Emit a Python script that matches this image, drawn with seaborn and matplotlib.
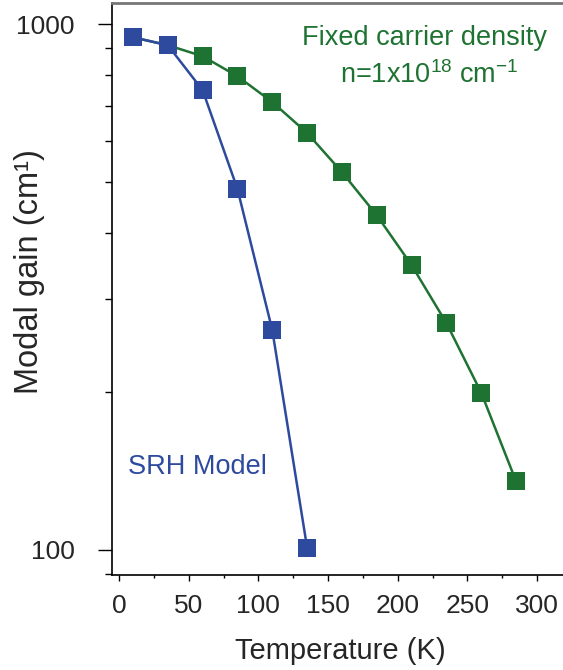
import numpy as np
import pandas as pd
import seaborn as sns
import matplotlib
matplotlib.use("Agg")
import matplotlib.pyplot as plt
from matplotlib.ticker import MultipleLocator, LogLocator, FixedLocator, FixedFormatter, NullFormatter

# temperatures (K) and modal gain (cm^-1)
temp_fixed = [10, 35, 60, 85, 110, 135, 160, 185, 210, 235, 260, 285]
gain_fixed = [944, 912, 869, 796, 711, 621, 523, 433, 348, 270, 199, 135]

temp_srh = [10, 35, 60, 85, 110, 135]
gain_srh = [944, 912, 749, 486, 262, 101]

series_names = ["Fixed carrier density", "SRH Model"]
series_colors = ["#1e7332", "#2e4a9e"]

df = pd.concat([
    pd.DataFrame({"T": temp_fixed, "gain": gain_fixed, "model": series_names[0]}),
    pd.DataFrame({"T": temp_srh, "gain": gain_srh, "model": series_names[1]}),
])

sns.set_style("ticks")
plt.rcParams["font.family"] = ["Liberation Sans", "DejaVu Sans"]
plt.rcParams["mathtext.default"] = "regular"

fig = plt.figure(figsize=(5.63, 6.70), dpi=100)
ax = fig.add_axes([0.199, 0.1418, 0.811, 0.8537])

sns.lineplot(data=df, x="T", y="gain", hue="model", hue_order=series_names,
             palette=series_colors, marker="s", markersize=13, markeredgewidth=0,
             linewidth=1.8, ax=ax, legend=False, sort=False)

ax.set_yscale("log")
ax.set_ylim(89.6, 1097)
ax.set_xlim(-5, 322.7)

ax.yaxis.set_major_locator(FixedLocator([100, 1000]))
ax.yaxis.set_major_formatter(FixedFormatter(["100", "1000"]))
ax.yaxis.set_minor_locator(LogLocator(base=10, subs=np.arange(2, 10)))
ax.yaxis.set_minor_formatter(NullFormatter())
ax.xaxis.set_major_locator(MultipleLocator(50))
ax.xaxis.set_minor_locator(MultipleLocator(25))

ax.tick_params(axis="y", which="major", length=10, width=1, pad=17, labelsize=19, color="black")
ax.tick_params(axis="y", which="minor", length=5, width=1, color="black")
ax.tick_params(axis="x", which="major", length=4.5, width=1, pad=9, labelsize=19, color="black")
ax.tick_params(axis="x", which="minor", length=2.5, width=1, color="black")

for s in ["left", "bottom"]:
    ax.spines[s].set_color("black")
    ax.spines[s].set_linewidth(1.2)
ax.spines["top"].set_color("#777777")
ax.spines["top"].set_linewidth(2)
ax.spines["right"].set_visible(False)

ax.set_xlabel("Temperature (K)", fontsize=21, labelpad=14)
ax.set_ylabel("Modal gain (cm¹)", fontsize=23.5)
ax.yaxis.set_label_coords(-0.147, 0.53)

ax.text(219.5, 940, "Fixed carrier density", color=series_colors[0], fontsize=19.5,
        ha="center", va="center")
ax.text(223, 800, "n=1x10$^{18}$ cm$^{-1}$", color=series_colors[0], fontsize=19.5,
        ha="center", va="center")
ax.text(6.5, 144, "SRH Model", color=series_colors[1], fontsize=19.5,
        ha="left", va="center")

fig.savefig("out.png", dpi=100)
